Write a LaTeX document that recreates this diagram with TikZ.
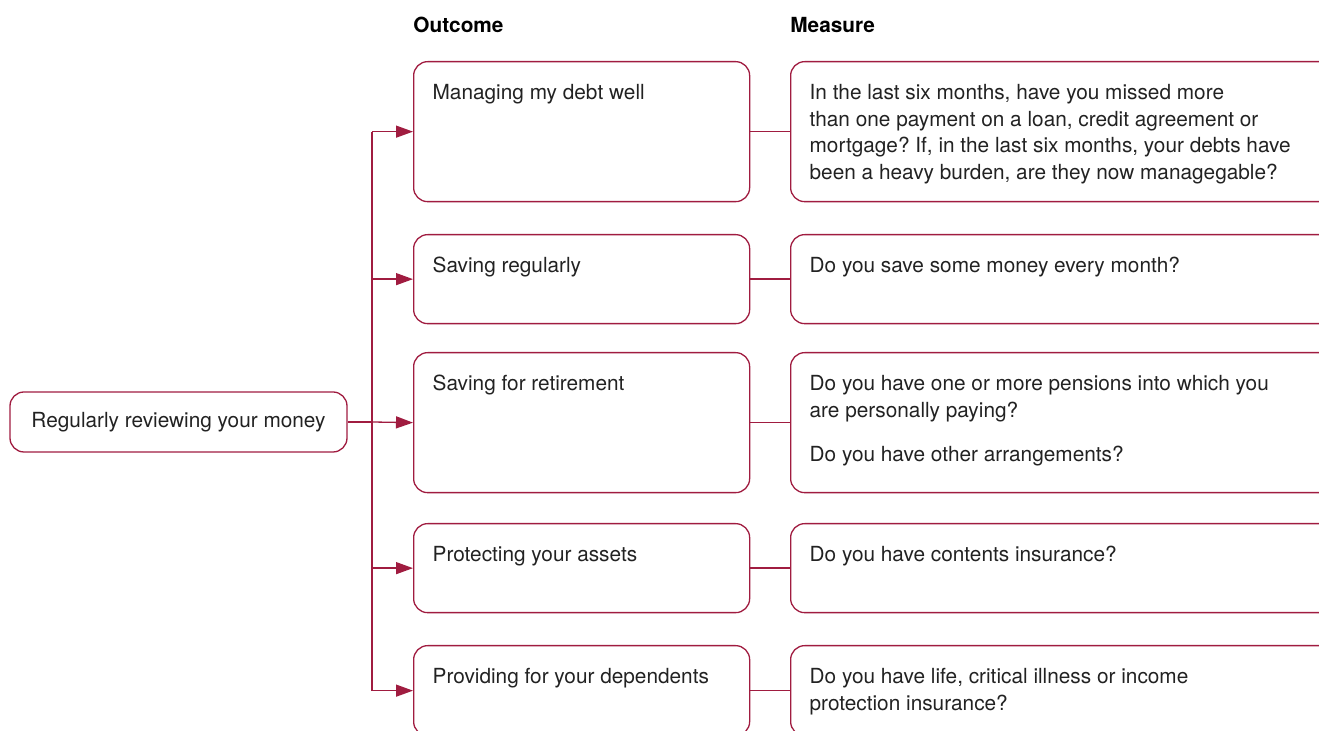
\documentclass[tikz,border=0pt]{standalone}
\usepackage{fontspec}
\setmainfont{TeX Gyre Heros}
\usetikzlibrary{arrows.meta}
\frenchspacing
\newcommand{\boxtext}[3]{\parbox[t][#1][t]{#2}{\raggedright\rule{0pt}{19pt}#3}}
\begin{document}
\begin{tikzpicture}[x=0.5pt, y=-0.5pt,
  every node/.style={font=\fontsize{10.4pt}{13.25pt}\selectfont, text=txt},
  cellbox/.style={draw=crim, line width=0.65pt, rounded corners=7pt, anchor=north west, inner xsep=9.5pt, inner ysep=0pt},
  startbox/.style={draw=crim, line width=0.65pt, rounded corners=7pt, minimum width=168.5pt, minimum height=30pt, inner sep=0pt},
  head/.style={anchor=base west, inner sep=0pt, font=\fontsize{10.4pt}{13.25pt}\selectfont\bfseries, text=black},
  link/.style={draw=crim, line width=0.65pt},
  arrow/.style={link, -{Triangle[length=8.5pt, width=6pt]}}]
\definecolor{crim}{HTML}{A01C40}
\definecolor{txt}{HTML}{222222}
\useasboundingbox (0,0) rectangle (1319,731);
\clip (0,0) rectangle (1319,731);
% column headings
\node[head] (outcome) at (413,33) {Outcome};
\node[head] (measure) at (790,33) {Measure};
% start
\node[startbox] (review) at (178.5,422) {Regularly reviewing your money};
% outcomes
\node[cellbox] (debt) at (413,61) {\boxtext{70pt}{149pt}{Managing my debt well}};
\node[cellbox] (saving) at (413,234) {\boxtext{44.5pt}{149pt}{Saving regularly}};
\node[cellbox] (retirement) at (413,352) {\boxtext{70pt}{149pt}{Saving for retirement}};
\node[cellbox] (assets) at (413,523) {\boxtext{44.5pt}{149pt}{Protecting your assets}};
\node[cellbox] (dependents) at (413,645) {\boxtext{45pt}{149pt}{Providing for your dependents}};
% measures
\node[cellbox] (debtq) at (790,61) {\boxtext{70pt}{256pt}{In the last six months, have you missed more\\ than one payment on a loan, credit agreement or\\ mortgage? If, in the last six months, your debts have\\ been a heavy burden, are they now managegable?}};
\node[cellbox] (savingq) at (790,234) {\boxtext{44.5pt}{256pt}{Do you save some money every month?}};
\node[cellbox] (retirementq) at (790,352) {\boxtext{70pt}{256pt}{Do you have one or more pensions into which you\\ are personally paying?\\[8.7pt] Do you have other arrangements?}};
\node[cellbox] (assetsq) at (790,523) {\boxtext{44.5pt}{256pt}{Do you have contents insurance?}};
\node[cellbox] (dependentsq) at (790,645) {\boxtext{45pt}{256pt}{Do you have life, critical illness or income\\ protection insurance?}};
% connectors
\coordinate (fork) at (372,422);
\draw[link] (review.east) -- (fork);
\draw[link] (fork |- debt.west) -- (fork |- dependents.west);
\draw[arrow] (fork |- debt.west) -- (debt.west);
\draw[arrow] (fork |- saving.west) -- (saving.west);
\draw[arrow] (fork) -- (retirement.west);
\draw[arrow] (fork |- assets.west) -- (assets.west);
\draw[arrow] (fork |- dependents.west) -- (dependents.west);
\draw[link] (debt.east) -- (debtq.west);
\draw[link] (saving.east) -- (savingq.west);
\draw[link] (retirement.east) -- (retirementq.west);
\draw[link] (assets.east) -- (assetsq.west);
\draw[link] (dependents.east) -- (dependentsq.west);
\end{tikzpicture}
\end{document}
